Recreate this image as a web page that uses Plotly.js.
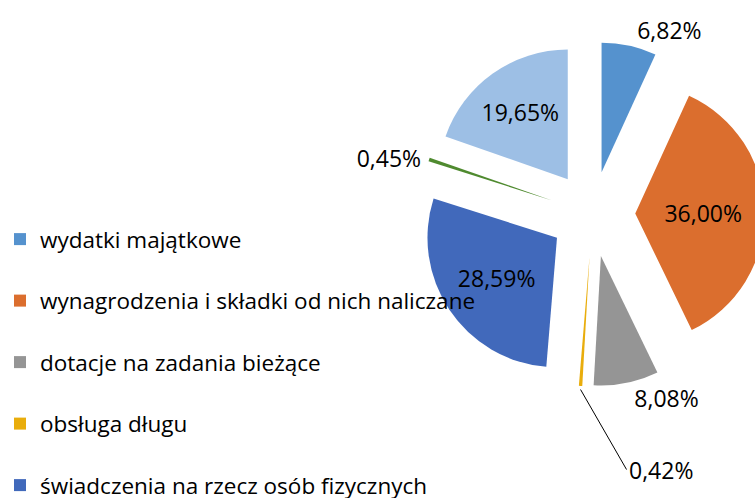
<!DOCTYPE html>
<html>
<head>
<meta charset="utf-8">
<script src="https://cdn.plot.ly/plotly-3.0.1.min.js"></script>
<style>
html,body{margin:0;padding:0;overflow:hidden;background:#fff;width:755px;height:498px;}
#chart{width:800px;height:700px;}
</style>
</head>
<body>
<div id="chart"></div>
<script>
const categories = [
  'wydatki majątkowe',
  'wynagrodzenia i składki od nich naliczane',
  'dotacje na zadania bieżące',
  'obsługa długu',
  'świadczenia na rzecz osób fizycznych',
  'pozostałe wydatki bieżące',
  'wydatki jednostek budżetowych'
];
const shares = [6.82, 36.00, 8.08, 0.42, 28.59, 0.45, 19.65];
const colors = ['#5592CE', '#DB6E2E', '#959595', '#E9AD0C', '#4169BB', '#4F8A2F', '#9DBFE5'];
const textPositions = ['outside', 'inside', 'outside', 'none', 'inside', 'outside', 'inside'];
const calloutIndex = 3;   // slice whose label is drawn with a leader line

const labelTexts = shares.map(v => v.toFixed(2).replace('.', ',') + '%');
const legendLabels = categories.map(c => c + '<br> ');

const FONT = '"Open Sans", Lato, sans-serif';
const W = 800, H = 700;
const domX = [0.515, 0.955], domY = [0.4429, 0.9457];
const pullFrac = 0.33;

// leader-line label position derived from the pie geometry
const total = shares.reduce((a, b) => a + b, 0);
const before = shares.slice(0, calloutIndex).reduce((a, b) => a + b, 0);
const midAngle = (before + shares[calloutIndex] / 2) / total * 2 * Math.PI;
const cx = W * (domX[0] + domX[1]) / 2;
const cy = H * (1 - (domY[0] + domY[1]) / 2);
const r = Math.min(W * (domX[1] - domX[0]), H * (domY[1] - domY[0])) / (2 + 2 * pullFrac);
const tipDist = r * (1 + pullFrac);
const tipX = cx + tipDist * Math.sin(midAngle);
const tipY = cy - tipDist * Math.cos(midAngle);

const trace = {
  type: 'pie',
  labels: legendLabels,
  values: shares,
  text: labelTexts,
  textinfo: 'text',
  textposition: textPositions,
  insidetextorientation: 'horizontal',
  sort: false,
  direction: 'clockwise',
  rotation: 0,
  pull: shares.map(() => pullFrac),
  marker: {colors: colors, line: {width: 0}},
  textfont: {family: FONT, size: 23, color: '#000'},
  outsidetextfont: {family: FONT, size: 23, color: '#000'},
  insidetextfont: {family: FONT, size: 23, color: '#000'},
  domain: {x: domX, y: domY},
  hoverinfo: 'label+text'
};

const layout = {
  width: W,
  height: H,
  margin: {l: 0, r: 0, t: 0, b: 0},
  paper_bgcolor: '#ffffff',
  showlegend: true,
  legend: {
    x: -0.022, xanchor: 'left',
    y: 0.6886, yanchor: 'top',
    valign: 'top',
    font: {family: FONT, size: 22.5, color: '#000'},
    bgcolor: 'rgba(0,0,0,0)'
  },
  annotations: [{
    xref: 'paper', yref: 'paper',
    x: tipX / W, y: 1 - tipY / H,
    text: labelTexts[calloutIndex],
    showarrow: true, arrowhead: 0, arrowwidth: 1, arrowcolor: '#000',
    ax: 46, ay: 80, xanchor: 'left', standoff: 0,
    font: {family: FONT, size: 23, color: '#000'}
  }]
};

Plotly.newPlot('chart', [trace], layout, {displayModeBar: false, staticPlot: true});
</script>
</body>
</html>
